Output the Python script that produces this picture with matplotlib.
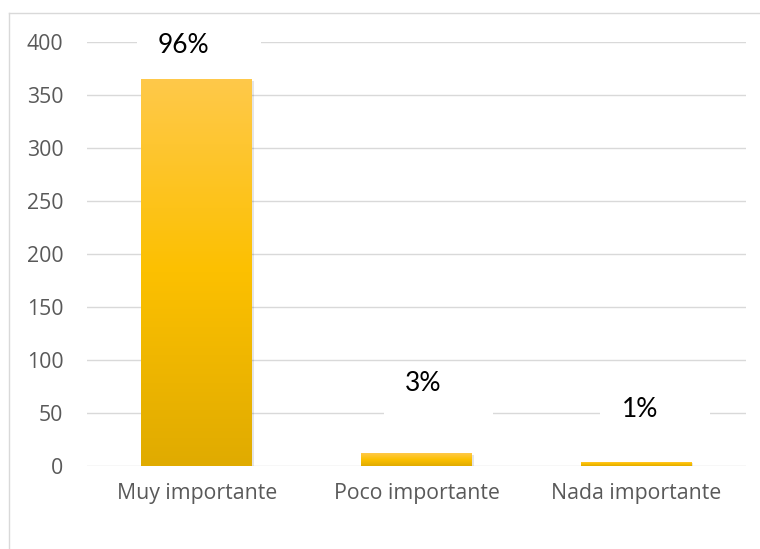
import numpy as np
import matplotlib.pyplot as plt
from matplotlib.colors import LinearSegmentedColormap
from matplotlib.patches import Rectangle
from matplotlib.lines import Line2D

categories = ["Muy importante", "Poco importante", "Nada importante"]
counts = [365, 12, 4]
y_ticks = [0, 50, 100, 150, 200, 250, 300, 350, 400]

# label placement in pixels: (horizontal nudge, rise above bar top)
label_nudge = [-13.5, 6.5, 3.5]
label_rise = [34, 70, 52]

plt.rcParams['font.family'] = ['Open Sans', 'DejaVu Sans']

W, H = 760, 549
fig = plt.figure(figsize=(W / 100, H / 100), dpi=100)
ax = fig.add_axes([87 / W, 1 - 466 / H, (746 - 87) / W, (466 - 42) / H])

# chart frame (left and top edges visible)
fig.lines.append(Line2D([8.5 / W, 8.5 / W], [0, 1 - 12.5 / H], transform=fig.transFigure,
                        color='#d9d9d9', linewidth=1.0))
fig.lines.append(Line2D([8.5 / W, 1], [1 - 12.5 / H, 1 - 12.5 / H], transform=fig.transFigure,
                        color='#d9d9d9', linewidth=1.0))

x = np.arange(len(categories))
width = 0.505
cmap = LinearSegmentedColormap.from_list(
    "gold", ["#e0ab00", "#fcc000", "#ffc94a"])

total = sum(counts)
labels = []
for i, v in enumerate(counts):
    # soft shadow
    ax.add_patch(Rectangle((x[i] - width / 2 + 0.008, -1.5), width, v,
                           facecolor='#000000', alpha=0.10, edgecolor='none',
                           zorder=2))
    bar = ax.bar(x[i], v, width, color='#fcc000', zorder=3)[0]
    grad = np.linspace(0, 1, 256).reshape(-1, 1)
    im = ax.imshow(grad, cmap=cmap, origin='lower', aspect='auto',
                   extent=(x[i] - width / 2, x[i] + width / 2, 0, max(v, 1)),
                   zorder=3.5)
    im.set_clip_path(bar)
    pct = f"{round(100 * v / total)}%"
    t = ax.annotate(pct, xy=(x[i], v),
                    xytext=(label_nudge[i] * 0.72, label_rise[i] * 0.72),
                    textcoords='offset points', ha='center', va='center',
                    fontsize=19, color='#000000', zorder=10,
                    family=['Lato', 'DejaVu Sans'])
    labels.append(t)

ax.set_xlim(-0.5, 2.5)
ax.set_ylim(0, 400)
ax.set_yticks(y_ticks)
ax.set_xticks(x)
ax.set_xticklabels(categories)
ax.tick_params(axis='both', length=0, labelsize=15.3, colors='#595959')
ax.tick_params(axis='y', pad=17)
ax.tick_params(axis='x', pad=12)
ax.grid(axis='y', color='#d9d9d9', linewidth=1.0, zorder=0)
ax.set_axisbelow(True)
for s in ax.spines.values():
    s.set_visible(False)

# white label backgrounds that break the gridlines
fig.canvas.draw()
renderer = fig.canvas.get_renderer()
for t in labels:
    bb = t.get_window_extent(renderer)
    x0, x1 = bb.x0 - 21, bb.x1 + 52
    y0, y1 = bb.y0 - 28, bb.y1 + 6
    ax.add_patch(Rectangle((x0 / W, y0 / H), (x1 - x0) / W, (y1 - y0) / H,
                           transform=fig.transFigure, facecolor='white',
                           edgecolor='none', zorder=1, clip_on=False))

fig.savefig("out.png", dpi=100)
